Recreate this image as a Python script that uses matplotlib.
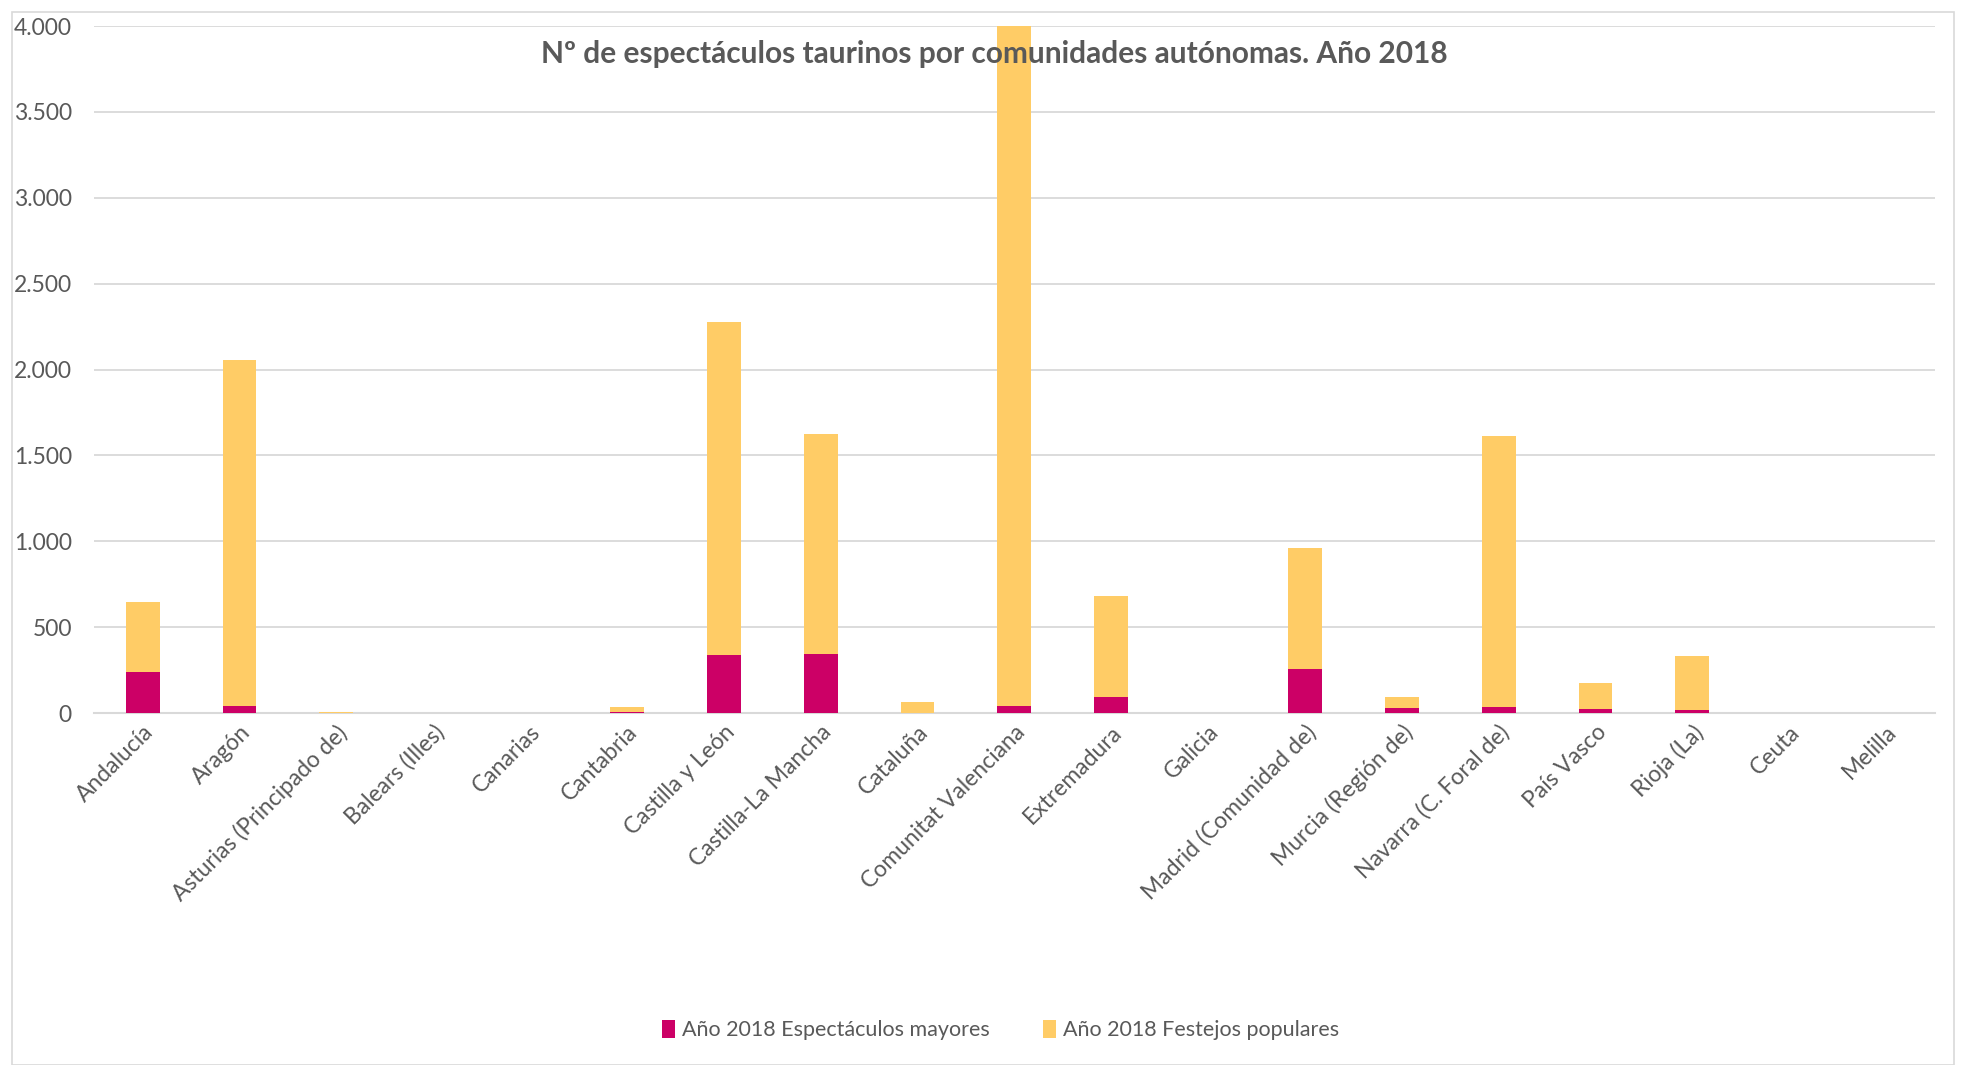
import matplotlib.pyplot as plt
import matplotlib.ticker as mticker
from matplotlib.patches import Rectangle
import numpy as np

plt.rcParams['font.family'] = ['Lato', 'DejaVu Sans']

comunidades = ['Andalucía', 'Aragón', 'Asturias (Principado de)', 'Balears (Illes)',
               'Canarias', 'Cantabria', 'Castilla y León', 'Castilla-La Mancha',
               'Cataluña', 'Comunitat Valenciana', 'Extremadura', 'Galicia',
               'Madrid (Comunidad de)', 'Murcia (Región de)', 'Navarra (C. Foral de)',
               'País Vasco', 'Rioja (La)', 'Ceuta', 'Melilla']
mayores = [239, 43, 3, 0, 0, 8, 338, 346, 0, 43, 94, 0, 258, 31, 37, 23, 20, 0, 0]
festejos = [407, 2012, 2, 0, 0, 29, 1937, 1279, 63, 4000, 586, 3, 700, 63, 1578, 151, 312, 0, 0]

c_may = '#CC0066'
c_fest = '#FFCC66'
gris = '#595959'

fig = plt.figure(figsize=(19.62, 10.65), dpi=100)
ax = fig.add_axes([0.048, 0.3305, 0.938, 0.645])

x = np.arange(len(comunidades))
ax.bar(x, mayores, width=0.35, color=c_may, label='Año 2018 Espectáculos mayores', zorder=3)
ax.bar(x, festejos, width=0.35, bottom=mayores, color=c_fest, label='Año 2018 Festejos populares', zorder=3)

ax.set_ylim(0, 4000)
ax.set_xlim(-0.5, len(comunidades) - 0.5)
ax.set_yticks(np.arange(0, 4001, 500))
ax.yaxis.set_major_formatter(mticker.FuncFormatter(lambda v, p: f'{int(v):,}'.replace(',', '.')))
ax.grid(axis='y', color='#D9D9D9', linewidth=1.3, zorder=0)
for s in ['top', 'right', 'left']:
    ax.spines[s].set_visible(False)
ax.spines['bottom'].set_color('#D9D9D9')
ax.spines['bottom'].set_linewidth(1.5)
ax.tick_params(axis='both', length=0, labelcolor=gris)
ax.tick_params(axis='y', pad=16, labelsize=16.5)
ax.tick_params(axis='x', pad=6, labelsize=16.5)
ax.set_xticks(x)
ax.set_xticklabels(comunidades, rotation=45, ha='right', rotation_mode='anchor')

fig.text(0.507, 0.949, 'Nº de espectáculos taurinos por comunidades autónomas. Año 2018',
         ha='center', va='center', fontsize=21.5, fontweight='bold', color=gris)

leg = fig.legend(loc='center', bbox_to_anchor=(0.51, 0.033), ncol=2, frameon=False,
                 fontsize=15.5, handlelength=0.6, handleheight=0.9, columnspacing=2.5,
                 handletextpad=0.3)
for t in leg.get_texts():
    t.set_color(gris)

fig.patches.append(Rectangle((0.006, 0.0), 0.99, 0.989, transform=fig.transFigure,
                             fill=False, edgecolor='#D9D9D9', linewidth=1.2))

fig.savefig('out.png', dpi=100)
